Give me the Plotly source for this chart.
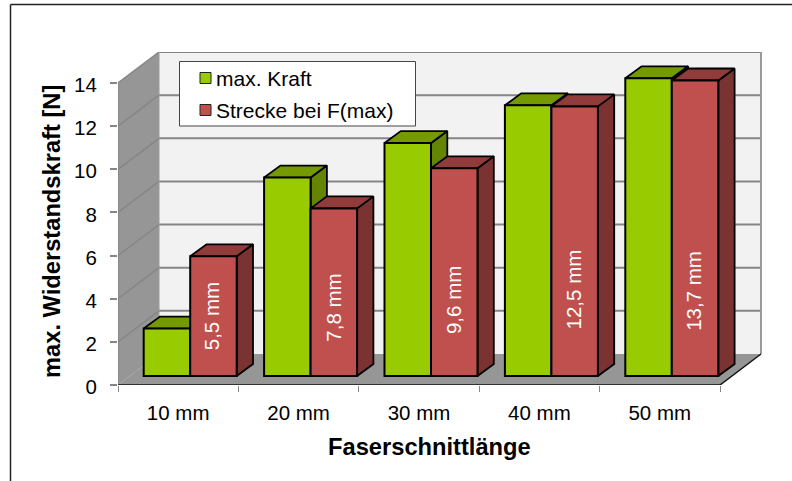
import plotly.graph_objects as go

categories = ["10 mm", "20 mm", "30 mm", "40 mm", "50 mm"]
kraft = [2.2, 9.2, 10.8, 12.55, 13.8]
strecke = [5.55, 7.77, 9.63, 12.5, 13.7]
strecke_labels = ["5,5 mm", "7,8 mm", "9,6 mm", "12,5 mm", "13,7 mm"]
label_pos = [3.2, 3.57, 3.94, 4.45, 4.36]
y_ticks = [0, 2, 4, 6, 8, 10, 12, 14]
series_names = ["max. Kraft", "Strecke bei F(max)"]

W, H = 792, 481
L, R, T, B = 118, 763, 52, 385
PX_X, PX_Y = 120.4, 21.57
xmax = (R - L) / PX_X
ymax = (B - T) / PX_Y
n = len(categories)
DX, DY = 41 / PX_X, 31 / PX_Y            # wall depth
OX, OY = 12 / PX_X, 9 / PX_Y             # bars' front plane
BDX, BDY = 16.3 / PX_X, 12 / PX_Y        # bar depth
BW = 46.5 / PX_X
GRID = "#868686"
WALL = "#969696"
GREEN = "#99cc00"
RED = "#c0504d"


def px(x):
    return (x - L) / (R - L)


def py(y):
    return (B - y) / (B - T)


def polys(items):
    xs, ys = [], []
    for it in items:
        xs += [p[0] for p in it] + [it[0][0], None]
        ys += [p[1] for p in it] + [it[0][1], None]
    return xs, ys


fig = go.Figure()


def poly(items, fill, line=None, width=0, z=0):
    xs, ys = polys(items)
    fig.add_trace(go.Scatter(
        x=xs, y=ys, mode="lines", fill="toself", fillcolor=fill, hoverinfo="skip",
        line=dict(color=line or fill, width=width), showlegend=False,
        cliponaxis=False, zorder=z))


def lines(items, color, width, z=0):
    xs, ys = [], []
    for a, b in items:
        xs += [a[0], b[0], None]
        ys += [a[1], b[1], None]
    fig.add_trace(go.Scatter(
        x=xs, y=ys, mode="lines", line=dict(color=color, width=width), hoverinfo="skip",
        showlegend=False, cliponaxis=False, zorder=z))


top = y_ticks[-1]
# walls and floor
poly([[(DX, DY), (n + DX, DY), (n + DX, top + DY), (DX, top + DY)]], "#f2f2f2")
poly([[(0, 0), (DX, DY), (DX, top + DY), (0, top)]], WALL)
poly([[(0, 0), (n, 0), (n + DX, DY), (DX, DY)]], WALL)
# gridlines
lines([((0, v), (DX, v + DY)) for v in y_ticks[1:]], GRID, 1.5)
lines([((DX, v + DY), (n + DX, v + DY)) for v in y_ticks[1:]], GRID, 2)
lines([((n + DX, DY), (n + DX, top + DY))], "#9a9a9a", 2)
lines([((DX, DY), (DX, top + DY))], "#9a9a9a", 1)
# axis lines
lines([((0, 0), (0, top))], GRID, 1.5)
lines([((0, 0), (n, 0)), ((n, 0), (n + DX, DY))], "#111111", 1.5)


def series(name, values, offset, front, topc, side, z):
    lefts = [i + 0.5 + OX + offset - BW / 2 for i in range(n)]
    tops, sides = [], []
    for x0, v in zip(lefts, values):
        yt = OY + v
        tops.append([(x0, yt), (x0 + BW, yt), (x0 + BW + BDX, yt + BDY), (x0 + BDX, yt + BDY)])
        sides.append([(x0 + BW, OY), (x0 + BW + BDX, OY + BDY), (x0 + BW + BDX, yt + BDY), (x0 + BW, yt)])
    poly(sides, side, "#000000", 1.8, z)
    poly(tops, topc, "#000000", 1.8, z)
    fig.add_trace(go.Bar(
        name=name, x=[x0 + BW / 2 for x0 in lefts], y=values, base=[OY] * n, width=BW,
        marker=dict(color=front, line=dict(color="#000000", width=2)),
        showlegend=False, cliponaxis=False, zorder=z + 1))


series(series_names[0], kraft, -BW / 2, GREEN, "#759a00", "#648500", 1)
series(series_names[1], strecke, BW / 2, RED, "#903c3a", "#7a3331", 3)

annotations = [
    dict(x=i + 0.5 + OX + BW / 2 - 0.01, y=p, text=t, textangle=-90, showarrow=False,
         xanchor="center", yanchor="middle",
         font=dict(size=20.5, color="white"), xref="x", yref="y")
    for i, (t, p) in enumerate(zip(strecke_labels, label_pos))
]
annotations += [
    dict(x=px(429.5), y=py(447), xref="paper", yref="paper", text="<b>Faserschnittlänge</b>",
         xanchor="center", yanchor="middle",
         showarrow=False, font=dict(size=23.7, color="black")),
    dict(x=px(52), y=py(232), xref="paper", yref="paper", text="<b>max. Widerstandskraft [N]</b>",
         xanchor="center", yanchor="middle",
         showarrow=False, textangle=-90, font=dict(size=23.7, color="black")),
]
# legend text
for name, yc in zip(series_names, [79, 110.5]):
    annotations.append(dict(x=px(214), y=py(yc), xref="paper", yref="paper", text=name,
                            xanchor="left", yanchor="middle", showarrow=False,
                            font=dict(size=21, color="black")))

shapes = [
    dict(type="line", xref="paper", yref="paper", x0=px(10.5), x1=px(W), y0=py(4.5), y1=py(4.5),
         line=dict(color="#222222", width=1.5), layer="below"),
    dict(type="line", xref="paper", yref="paper", x0=px(10.5), x1=px(10.5), y0=py(4.5), y1=py(H),
         line=dict(color="#222222", width=1.5), layer="below"),
    # legend box and swatches
    dict(type="rect", xref="paper", yref="paper", x0=px(179.5), x1=px(415.5), y0=py(61.5), y1=py(126),
         line=dict(color="#444444", width=1), fillcolor="white", layer="above"),
]
for color, yc in zip([GREEN, RED], [78, 110]):
    shapes.append(dict(type="rect", xref="paper", yref="paper", x0=px(200), x1=px(211),
                       y0=py(yc - 5.5), y1=py(yc + 5.5), fillcolor=color,
                       line=dict(color="#222222", width=1), layer="above"))

fig.update_layout(
    width=W, height=H, autosize=False,
    margin=dict(l=L, r=W - R, t=T, b=H - B, pad=0),
    paper_bgcolor="white", plot_bgcolor="white",
    barmode="overlay", shapes=shapes, annotations=annotations, showlegend=False,
    font=dict(family="Liberation Sans, Arial, sans-serif", size=20.5, color="black"),
    xaxis=dict(range=[0, xmax], tickmode="array", tickvals=[i + 0.5 for i in range(n)],
               ticktext=categories, ticks="", showgrid=False, zeroline=False, showline=False,
               ticklabelstandoff=13,
               minor=dict(tickmode="array", tickvals=list(range(n + 1)), ticks="outside",
                          ticklen=6, tickcolor=GRID, tickwidth=1, showgrid=False)),
    yaxis=dict(range=[0, ymax], tickmode="array", tickvals=y_ticks, ticks="outside", ticklen=7,
               ticklabelstandoff=9, ticklabelshift=2,
               tickcolor=GRID, tickwidth=1.5, showgrid=False, zeroline=False, showline=False),
)

fig.write_html("out.html", config={"displayModeBar": False},
               post_script="document.body.style.margin='0';")
